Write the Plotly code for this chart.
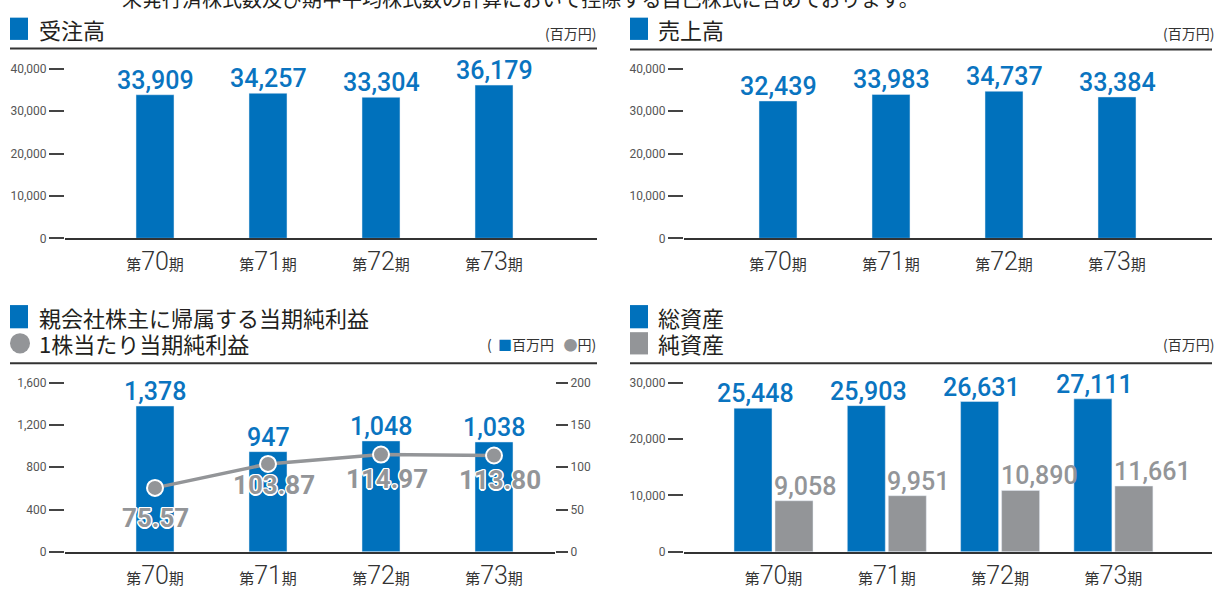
import plotly.graph_objects as go

# ---------------- data ----------------
periods = ["70", "71", "72", "73"]
orders = [33909, 34257, 33304, 36179]
sales = [32439, 33983, 34737, 33384]
net_income = [1378, 947, 1048, 1038]
eps = [75.57, 103.87, 114.97, 113.80]
total_assets = [25448, 25903, 26631, 27111]
net_assets = [9058, 9951, 10890, 11661]

tl_ticks = [0, 10000, 20000, 30000, 40000]
bl_ticks = [0, 400, 800, 1200, 1600]
bl_ticks_r = [0, 50, 100, 150, 200]
br_ticks = [0, 10000, 20000, 30000]

# ---------------- style ----------------
W, H = 1214, 590
BLUE = "#0071bc"
BLUE_TXT = "#0a74c0"
GRAY = "#939598"
DARK = "#231f20"
TICK = "#555555"
NUMF = "Roboto, Noto Sans, sans-serif"
JPF = "Noto Sans CJK JP, Noto Sans, sans-serif"
OUTLINE = ("white 1.5px 0px 0px, white -1.5px 0px 0px, white 0px 1.5px 0px, white 0px -1.5px 0px, "
           "white 1px 1px 0px, white -1px -1px 0px, white 1px -1px 0px, white -1px 1px 0px")


def px(x):
    return x / W


def py(y):
    return 1 - y / H


xs = list(range(len(periods)))
cat_text = [
    f"<span style='font-family:Noto Sans CJK JP;font-size:15px;font-weight:400'>第</span>{p}"
    f"<span style='font-family:Noto Sans CJK JP;font-size:15px;font-weight:400'>期</span>"
    for p in periods
]

fig = go.Figure()


def xrange(left, right, first, step):
    r0 = -(first - left) / step
    return [r0, r0 + (right - left) / step]


# panel geometry (pixels)
panels = {
    "tl": dict(l=65, r=597, top=64, bot=239, first=155, step=113),
    "tr": dict(l=684, r=1212, top=64, bot=239, first=778, step=113),
    "bl": dict(l=65, r=555, top=388, bot=563, first=155, step=113),
    "br": dict(l=684, r=1212, top=388, bot=563, first=773.5, step=113.3),
}

axis_keys = {"tl": ("xaxis", "yaxis"), "tr": ("xaxis2", "yaxis2"),
             "bl": ("xaxis3", "yaxis3"), "br": ("xaxis4", "yaxis4")}
anchors = {"tl": ("x", "y"), "tr": ("x2", "y2"), "bl": ("x3", "y3"), "br": ("x4", "y4")}
yranges = {"tl": [0, 40000], "tr": [0, 40000], "bl": [0, 1600], "br": [0, 30000]}
yticks = {"tl": tl_ticks, "tr": tl_ticks, "bl": bl_ticks, "br": br_ticks}

layout_axes = {}
for k, g in panels.items():
    xk, yk = axis_keys[k]
    xa, ya = anchors[k]
    layout_axes[xk] = dict(
        domain=[px(g["l"]), px(g["r"])], anchor=ya,
        range=xrange(g["l"], g["r"], g["first"], g["step"]),
        tickmode="array", tickvals=xs, ticktext=cat_text,
        showline=True, linecolor="#333333", linewidth=1.5,
        showgrid=False, zeroline=False, ticks="",
        tickfont=dict(family=NUMF, size=25, color="#333333", weight=300),
    )
    layout_axes[yk] = dict(
        domain=[py(g["bot"]), py(g["top"])], anchor=xa,
        range=yranges[k], tickmode="array", tickvals=yticks[k],
        tickformat=",d", ticks="outside", ticklen=15, tickwidth=1.5,
        tickcolor="#444444", showgrid=False, zeroline=False, showline=False,
        tickfont=dict(family=NUMF, size=12, color=TICK),
    )

layout_axes["yaxis5"] = dict(
    overlaying="y3", anchor="x3", side="right", range=[0, 200],
    tickmode="array", tickvals=bl_ticks_r, ticks="outside", ticklen=12,
    tickwidth=1.5, tickcolor="#444444", showgrid=False, zeroline=False,
    showline=False, tickfont=dict(family=NUMF, size=12, color=TICK),
)

bw = 38 / 113

fig.add_trace(go.Bar(x=xs, y=orders, width=bw, marker_color=BLUE, xaxis="x", yaxis="y",
                     hoverinfo="skip"))
fig.add_trace(go.Bar(x=xs, y=sales, width=bw, marker_color=BLUE, xaxis="x2", yaxis="y2",
                     hoverinfo="skip"))
fig.add_trace(go.Bar(x=xs, y=net_income, width=bw, marker_color=BLUE, xaxis="x3", yaxis="y3",
                     hoverinfo="skip"))
fig.add_trace(go.Scatter(x=xs, y=eps, mode="lines+markers", xaxis="x3", yaxis="y5",
                         line=dict(color=GRAY, width=3.5),
                         marker=dict(size=16, color=GRAY, line=dict(color="white", width=2)),
                         hoverinfo="skip", cliponaxis=False))
bstep = 113.3
fig.add_trace(go.Bar(x=xs, y=total_assets, width=38 / bstep, offset=-39.5 / bstep,
                     marker_color=BLUE, xaxis="x4", yaxis="y4", hoverinfo="skip"))
fig.add_trace(go.Bar(x=xs, y=net_assets, width=38 / bstep, offset=1.5 / bstep,
                     marker_color=GRAY, xaxis="x4", yaxis="y4", hoverinfo="skip"))

annotations = []
LBL = dict(family=NUMF, size=25, color=BLUE_TXT, weight=500)


def value_labels(vals, xa, ya, font, xoff=0.0, xanchor="center", xshift=0, yshift=-2, fmt="{:,}"):
    for i, v in zip(xs, vals):
        annotations.append(dict(x=i + xoff, y=v, xref=xa, yref=ya, text=fmt.format(v),
                                showarrow=False, xanchor=xanchor, yanchor="bottom",
                                xshift=xshift, yshift=yshift, font=font))


value_labels(orders, "x", "y", LBL)
value_labels(sales, "x2", "y2", LBL)
value_labels(net_income, "x3", "y3", LBL)
value_labels(total_assets, "x4", "y4", LBL, xoff=-20.5 / bstep, xshift=2)
value_labels(net_assets, "x4", "y4", dict(LBL, color=GRAY), xoff=1.5 / bstep, xanchor="left",
             xshift=-3)

eps_label_dy = [30, 21, 24, 24]
for i, v, dy in zip(xs, eps, eps_label_dy):
    annotations.append(dict(x=i, y=v, xref="x3", yref="y5", text=f"{v:.2f}", showarrow=False,
                            xanchor="center", yanchor="middle", yshift=-dy, xshift=6 if i else 0,
                            font=dict(family=NUMF, size=26, color=GRAY, weight="bold",
                                      shadow=OUTLINE)))

# titles
TF = dict(family=JPF, size=22, color=DARK)
UF = dict(family=JPF, size=14, color="#333333")


def ptext(x, y, text, font, xanchor="left"):
    annotations.append(dict(x=px(x), y=py(y), xref="paper", yref="paper", text=text,
                            showarrow=False, xanchor=xanchor, yanchor="middle", font=font))


ptext(37, 23, "受注高", TF)
ptext(656, 23, "売上高", TF)
ptext(37, 320, "親会社株主に帰属する当期純利益", TF)
ptext(37, 347, "1株当たり当期純利益", TF)
ptext(656, 320, "総資産", TF)
ptext(656, 347, "純資産", TF)
ptext(598, 27, "(百万円)", UF, "right")
ptext(1216, 27, "(百万円)", UF, "right")
ptext(1216, 348, "(百万円)", UF, "right")
ptext(598, 348, f"(&nbsp;&nbsp;<span style='color:{BLUE}'>■</span>百万円&nbsp;&nbsp;&nbsp;"
                f"<span style='color:{GRAY}'>●</span>円)", UF, "right")
ptext(120, -9, "末発行済株式数及び期中平均株式数の計算において控除する自己株式に含めております。",
      dict(family=JPF, size=20, color=DARK))

shapes = []


def rect(x0, y0, x1, y1, color, kind="rect"):
    shapes.append(dict(type=kind, xref="paper", yref="paper", x0=px(x0), x1=px(x1),
                       y0=py(y1), y1=py(y0), fillcolor=color, line=dict(width=0)))


def hline(x0, x1, y):
    shapes.append(dict(type="line", xref="paper", yref="paper", x0=px(x0), x1=px(x1),
                       y0=py(y), y1=py(y), line=dict(color="#333333", width=2)))


rect(10, 11, 28, 34, BLUE)
rect(630, 11, 648, 34, BLUE)
rect(10, 308, 28, 332, BLUE)
rect(10, 337, 30, 358, GRAY, "circle")
rect(630, 308, 648, 332, BLUE)
rect(630, 336, 648, 359, GRAY)
hline(10, 597, 43)
hline(630, 1212, 44)
hline(10, 597, 368)
hline(630, 1212, 368)

fig.update_layout(
    width=W, height=H, margin=dict(l=0, r=0, t=0, b=0),
    paper_bgcolor="white", plot_bgcolor="white", showlegend=False,
    barmode="overlay", annotations=annotations, shapes=shapes,
    **layout_axes,
)

fig.write_html(
    "out.html",
    config={"displayModeBar": False},
    post_script=(
        "var s=document.createElement('style');"
        "s.textContent='html,body{margin:0!important;padding:0!important;overflow:hidden!important;}';"
        "document.head.appendChild(s);"
    ),
)
